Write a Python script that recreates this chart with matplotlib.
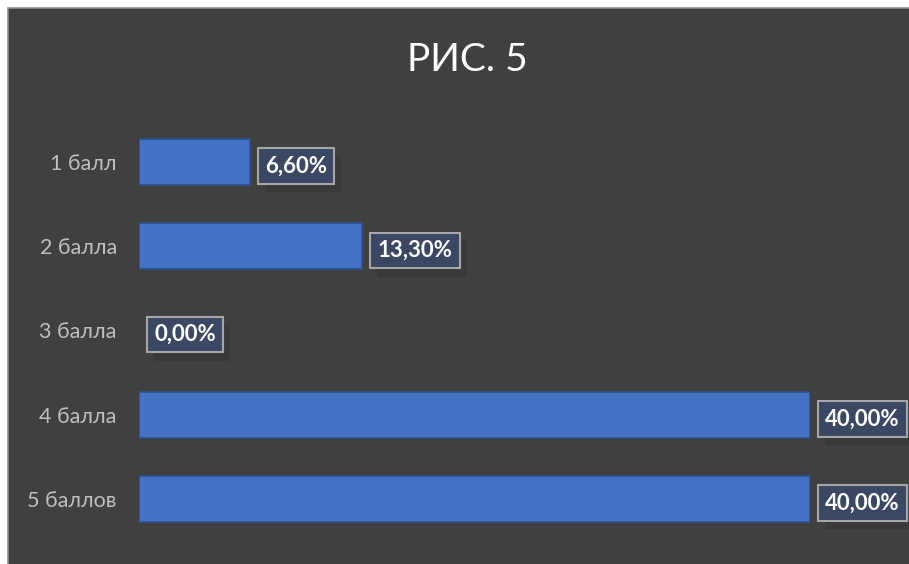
import matplotlib
matplotlib.use('Agg')
import matplotlib.pyplot as plt
import matplotlib.patheffects as pe
from matplotlib.patches import Rectangle

# chart data
categories = ['1 балл', '2 балла', '3 балла', '4 балла', '5 баллов']
values = [6.6, 13.3, 0.0, 40.0, 40.0]
labels = ['6,60%', '13,30%', '0,00%', '40,00%', '40,00%']

plt.rcParams['font.family'] = ['Lato', 'DejaVu Sans']

bg = '#404040'
fig = plt.figure(figsize=(9.09, 5.64), dpi=100, facecolor='white')

# dark chart area with thin gray frame, on its own background axes
bg_ax = fig.add_axes([0, 0, 1, 1], zorder=-1)
bg_ax.set_axis_off()
bg_ax.add_patch(Rectangle((8 / 909, -0.01), 1 - 8 / 909 + 0.01, 1 - 8 / 564 + 0.01,
                          transform=bg_ax.transAxes, facecolor=bg,
                          edgecolor='#8c8c8c', linewidth=1.2))

ax = fig.add_axes([139 / 909, 1 - 541 / 564, (810 - 139) / 909, (541 - 120) / 564])
ax.set_facecolor('none')

pos = list(range(len(categories)))
lw = [1.2 if v > 0 else 0 for v in values]
ax.barh(pos, values, height=0.55, color='#4472c4', edgecolor='#2f528f', linewidth=lw)
ax.set_xlim(0, 40)
ax.set_ylim(len(categories) - 0.5, -0.5)
ax.set_yticks(pos)
ax.set_yticklabels(categories, color='#bfbfbf', fontsize=15.5)
ax.set_xticks([])
ax.tick_params(axis='y', length=0, pad=16)
for s in ax.spines.values():
    s.set_visible(False)

# value labels in boxes with a soft shadow
for i, (v, lab) in enumerate(zip(values, labels)):
    t = ax.annotate(lab, xy=(v, i), xytext=(11, -3), textcoords='offset points',
                    ha='left', va='center', color='white', fontsize=16, fontweight='bold',
                    annotation_clip=False,
                    bbox=dict(boxstyle='square,pad=0.33', facecolor='#3b4863',
                              edgecolor='#a6a6a6', linewidth=1.5))
    t.get_bbox_patch().set_path_effects([
        pe.SimplePatchShadow(offset=(5, -6), shadow_rgbFace='black', alpha=0.1),
        pe.Normal()])

fig.text(0.514, 0.893, 'РИС. 5', ha='center', va='center', color='white', fontsize=28)

fig.savefig('out.png', dpi=100, facecolor=fig.get_facecolor())
